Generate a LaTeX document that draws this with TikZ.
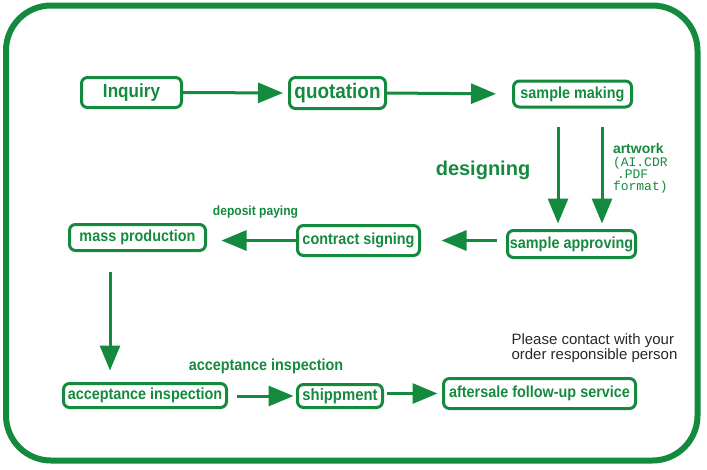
\documentclass[tikz,border=0pt]{standalone}
\usepackage{fontspec}
\setmainfont{Liberation Sans}
\newfontfamily\narrowfont{Liberation Sans}[FakeStretch=0.9]
\newfontfamily\codefont{Liberation Mono}
\usetikzlibrary{arrows.meta}
\definecolor{flowgreen}{RGB}{20,138,62}
\definecolor{notegray}{RGB}{40,40,40}

\begin{document}
\begin{tikzpicture}[x = 1pt, y = -1pt, line width = 3pt,
                        stage/.style = {draw = flowgreen, rounded corners = 6pt, inner sep = 0pt,
                          text = flowgreen, font = \narrowfont\bfseries\fontsize{16}{19}\selectfont},
                        flow/.style = {draw = flowgreen, -{Triangle[length = 25pt, width = 20pt]}},
                        caption/.style = {text = flowgreen, inner sep = 0pt}]
      \useasboundingbox (0, 0) rectangle (707, 469);
      \draw [flowgreen, line width = 6pt, rounded corners = 45pt] (6, 5.5) rectangle (697.5, 460.5);
      \node [stage, minimum width = 100pt, minimum height = 30pt,
             font = \narrowfont\bfseries\fontsize{19}{22}\selectfont] (Inq) at (131.5, 92.5){Inquiry};
      \node [stage, minimum width = 96pt, minimum height = 31pt,
             font = \narrowfont\bfseries\fontsize{21}{24}\selectfont] (Quot) at (337.5, 93){quotation};
      \node [stage, minimum width = 118pt, minimum height = 26pt] (SM) at (572.5, 94){sample making};
      \node [stage, minimum width = 128pt, minimum height = 27pt] (SA) at (571.5, 244){sample approving};
      \node [stage, minimum width = 122pt, minimum height = 30pt] (CS) at (358.5, 240.5){contract signing};
      \node [stage, minimum width = 136pt, minimum height = 26pt] (MP) at (137.5, 237.5){mass production};
      \node [stage, minimum width = 163pt, minimum height = 24pt] (AI) at (145, 395.5){acceptance inspection};
      \node [stage, minimum width = 85pt, minimum height = 23pt,
             font = \narrowfont\bfseries\fontsize{16.5}{19}\selectfont] (Ship) at (340, 396){shippment};
      \node [stage, minimum width = 192pt, minimum height = 30pt] (AS) at (539.5, 393.5){aftersale follow-up service};
      \node [caption, font = \bfseries\fontsize{20}{24}\selectfont] (Des) at (483, 170){designing};
      \node [caption, anchor = west, font = \bfseries\fontsize{14}{16}\selectfont] (Art) at (611.5, 148){artwork};
      \node [caption, anchor = north west, align = left,
             font = \codefont\fontsize{13}{12}\selectfont] (Fmt) at (611.5, 156){(AI.CDR\\\hspace*{4pt}.PDF\\format)};
      \node [caption, font = \narrowfont\bfseries\fontsize{13.4}{16}\selectfont] (Dep) at (255.5, 212){deposit paying};
      \node [caption, font = \narrowfont\bfseries\fontsize{16}{19}\selectfont] (Acc) at (266, 366){acceptance inspection};
      \node [anchor = west, align = left, inner sep = 0pt, text = notegray,
             font = \fontsize{15}{15.5}\selectfont] (Note) at (510, 348){Please contact with your\\order responsible person};
      \draw [flow, shorten > = 5pt] (Inq.east) -- (Quot.west);
      \draw [flow, shorten > = 16pt] (Quot.east) -- (SM.west);
      \draw [flow, shorten < = 18pt, shorten > = 5.5pt] ([xshift = -14.5pt]SM.south) -- ([xshift = -14.5pt]SM.south |- SA.north);
      \draw [flow, shorten < = 18pt, shorten > = 5.5pt] ([xshift = 29.5pt]SM.south) -- ([xshift = 29.5pt]SM.south |- SA.north);
      \draw [flow, shorten < = 9.5pt, shorten > = 20.5pt] (SA.west |- CS.east) -- (CS.east);
      \draw [flow, shorten > = 14.5pt] (CS.west) -- (MP.east |- CS.west);
      \draw [flow, shorten < = 19.5pt, shorten > = 11.5pt] ([xshift = -27.5pt]MP.south) -- ([xshift = -27.5pt]MP.south |- AI.north);
      \draw [flow, shorten < = 8.5pt, shorten > = 2.5pt] (AI.east |- Ship.west) -- (Ship.west);
      \draw [flow, shorten < = 2.5pt, shorten > = 4.5pt] (Ship.east |- AS.west) -- (AS.west);
    \end{tikzpicture}
\end{document}
